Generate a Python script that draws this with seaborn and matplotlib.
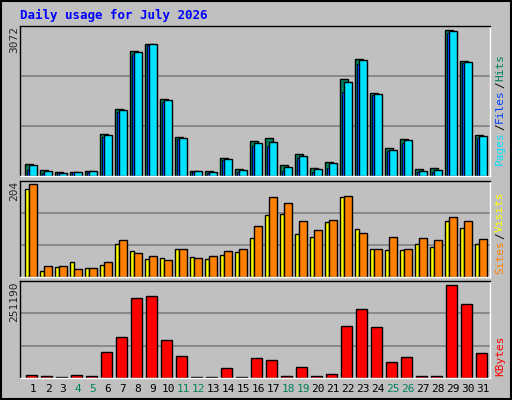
import matplotlib
matplotlib.use("Agg")
import matplotlib.pyplot as plt
import seaborn as sns
import numpy as np
import pandas as pd

days = list(range(1, 32))
day_labels = [str(d) for d in days]
weekend = {4, 5, 11, 12, 18, 19, 25, 26}
hits = [252, 129, 88, 88, 109, 864, 1374, 2557, 2700, 1578, 802, 109, 109, 374, 150, 721, 782, 231, 456, 170, 292, 1986, 2394, 1700, 578, 762, 150, 170, 2992, 2353, 843]
files = [231, 109, 68, 88, 109, 843, 1353, 2537, 2700, 1557, 782, 109, 88, 354, 129, 680, 700, 190, 415, 150, 272, 1925, 2373, 1680, 537, 741, 109, 129, 2972, 2333, 823]
pages = [122, 68, 54, 82, 82, 802, 1312, 2496, 2679, 1516, 762, 82, 54, 333, 88, 619, 619, 109, 374, 88, 170, 1720, 2285, 1659, 517, 680, 88, 88, 2931, 2312, 782]
visits = [197, 24, 24, 18, 20, 31, 78, 50, 45, 37, 60, 41, 45, 56, 60, 109, 169, 158, 120, 99, 122, 173, 94, 60, 84, 60, 82, 78, 127, 118, 80]
sites = [188, 13, 22, 31, 20, 26, 71, 56, 39, 41, 60, 43, 39, 47, 54, 82, 131, 133, 92, 86, 116, 169, 101, 60, 58, 58, 71, 64, 118, 105, 71]
kbytes = [8845, 6192, 3538, 8845, 6192, 67222, 107025, 207866, 213173, 99065, 56610, 3538, 3538, 24766, 3538, 51302, 45995, 6192, 27420, 6192, 11499, 133560, 178670, 130906, 40688, 53956, 6192, 6192, 241461, 191060, 64569]

BG = "#c0c0c0"
sns.set_style("white")
plt.rcParams['font.family'] = ['DejaVu Sans Mono', 'DejaVu Sans']
fig = plt.figure(figsize=(5.12, 4.0), dpi=100, facecolor=BG)

def frame(ax, top, ticks):
    ax.set_facecolor(BG)
    ax.set_xlim(0.133, 31.47)
    ax.set_ylim(0, top)
    for t in ticks:
        ax.axhline(t, color="#808080", lw=1.2, zorder=0)
    for s in ax.spines.values():
        s.set_color("black"); s.set_linewidth(1)
    ax.spines['bottom'].set_color("white")
    ax.spines['right'].set_color("white")
    ax.set_xticks([]); ax.set_yticks([])
    ax.set_xlabel(""); ax.set_ylabel("")

x = np.array(days, dtype=float)
ec = dict(edgecolor="black", linewidth=1, align="edge")

ax1 = fig.add_axes([20/512, 1-176/400, 470/512, 150/400])
ax1.bar(x-0.53, hits, width=0.53, color="#00805c", **ec)
ax1.bar(x-0.27, files, width=0.54, color="#00e0ff", **ec)
ax1.bar(x-0.43, pages, width=0.16, color="#0040ff", edgecolor="black", linewidth=0.6, align="edge")
frame(ax1, 3072, [3072/3, 2*3072/3])

ax2 = fig.add_axes([20/512, 1-277/400, 470/512, 96/400])
ax2.bar(x-0.53, sites, width=0.28, color="#ffff00", **ec)
ax2.bar(x-0.27, visits, width=0.54, color="#ff8000", **ec)
frame(ax2, 204, [204/3, 2*204/3])

ax3 = fig.add_axes([20/512, 1-378/400, 470/512, 97/400])
df = pd.DataFrame({"day": x - 0.2, "kb": kbytes})
ax3.bar(df["day"]-0.27, df["kb"], width=0.73, color="#ff0000", **ec)
frame(ax3, 251190, [251190/3, 2*251190/3])

for d in days:
    fig.text((33+15*(d-1))/512, 1-389/400, str(d), ha="center", va="center", fontsize=8,
             color="#00805c" if d in weekend else "black")

fig.text(20/512, 1-15/400, "Daily usage for July 2026", color="#0000ff", fontsize=9, fontweight="bold", va="center")
for y, t in [(26, "3072"), (181, "204"), (281, "251190")]:
    fig.text(14/512, 1-y/400, t, rotation=90, ha="center", va="top", fontsize=8)

def side(ypix, parts):
    # parts listed bottom to top
    y = 1 - ypix/400
    for txt, col in parts:
        t = fig.text(500/512, y, txt, rotation=90, ha="center", va="bottom", fontsize=8, color=col)
        y += len(txt)*7/400

side(165, [("Pages", "#00e0ff"), ("/", "#000000"), ("Files", "#0040ff"), ("/", "#000000"), ("Hits", "#00805c")])
side(274, [("Sites", "#ff8000"), ("/", "#000000"), ("Visits", "#ffff00")])
side(376, [("KBytes", "#ff0000")])

# bevel border
fig.add_artist(plt.Rectangle((1/512, 1/400), 510/512, 398/400, transform=fig.transFigure, fill=False, edgecolor="black", lw=1.5))
fig.savefig("out.png", dpi=100, facecolor=BG)
